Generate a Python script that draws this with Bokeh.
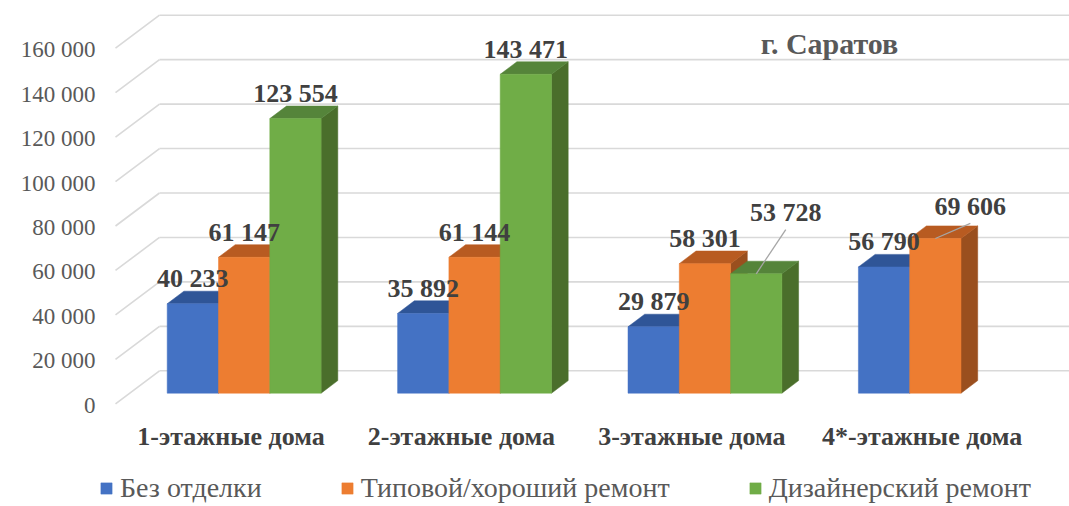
from bokeh.plotting import figure
from bokeh.models import Range1d, Legend, LegendItem, Label
from bokeh.core.properties import value
from bokeh.embed import file_html
from bokeh.resources import INLINE

# ---- data -------------------------------------------------------------
categories = ["1-этажные дома", "2-этажные дома", "3-этажные дома", "4*-этажные дома"]
series_names = ["Без отделки", "Типовой/хороший ремонт", "Дизайнерский ремонт"]
bez_otdelki = [40233, 35892, 29879, 56790]
tipovoy_remont = [61147, 61144, 58301, 69606]
dizainerskiy_remont = [123554, 143471, 53728, None]
y_ticks = [0, 20000, 40000, 60000, 80000, 100000, 120000, 140000, 160000]
city = "г. Саратов"

series_values = [bez_otdelki, tipovoy_remont, dizainerskiy_remont]


def fmt(v):
    return f"{v:,}".replace(",", " ")


y_tick_labels = [fmt(t) for t in y_ticks]

# ---- styling ----------------------------------------------------------
W, H = 1069, 506
GROUP_PX = 230.4          # pixels between category centres
FIRST_GROUP_PX = 232      # canvas x of first bar group reference
ZERO_PX = 403.3           # canvas y of the value 0 on the front plane
PX_PER_UNIT = 2.2225 / 1000.0

FONT_NAME = "Times New Roman"
FONT = value(FONT_NAME)
C_TEXT_DARK = "#404040"
C_TEXT = "#595959"
C_GRID = "#d9d9d9"

FRONT = ["#4472C4", "#ED7D31", "#70AD47"]
TOP = ["#2F5597", "#B85B21", "#55843A"]
SIDE = ["#2A4B86", "#9A4F1E", "#4A6E2B"]


def dx(px):
    return px / GROUP_PX


def dy(px):
    return px / PX_PER_UNIT


def cx_px(px):
    return dx(px - FIRST_GROUP_PX)


# 3-D projection offsets
WALL_X = cx_px(115)
WALL_DX, WALL_DY = dx(44), dy(33)
BAR_W = dx(51.3)
BAR_LEFT0 = dx(166.7 - FIRST_GROUP_PX)
BAR_BASE = dy(10.6)
BAR_DX, BAR_DY = dx(16.7), dy(12.6)
LABEL_GAP = dy(12.5)
# labels moved off their bar (pixels right, up) with a leader line
LABEL_NUDGE = {(2, 2): (29.5, 36), (3, 1): (35, 7)}

x0, x1 = cx_px(0), cx_px(W)
y0, y1 = dy(-(H - ZERO_PX)), dy(ZERO_PX)

p = figure(width=W, height=H, output_backend="svg", toolbar_location=None,
           x_range=Range1d(x0, x1), y_range=Range1d(y0, y1),
           min_border=0, x_axis_type=None, y_axis_type=None)
p.outline_line_color = None
p.xgrid.visible = False
p.ygrid.visible = False
p.background_fill_color = "white"
p.border_fill_color = "white"

# ---- gridlines: diagonal on the side, horizontal on the back wall -----
n = len(y_ticks)
p.segment(x0=[WALL_X] * n, y0=y_ticks,
          x1=[WALL_X + WALL_DX] * n, y1=[t + WALL_DY for t in y_ticks],
          line_color=C_GRID, line_width=1.6)
p.segment(x0=[WALL_X + WALL_DX] * n, y0=[t + WALL_DY for t in y_ticks],
          x1=[x1] * n, y1=[t + WALL_DY for t in y_ticks],
          line_color=C_GRID, line_width=1.6)

# ---- value axis labels ------------------------------------------------
p.text(x=[cx_px(95)] * n, y=[t - dy(1.5) for t in y_ticks], text=y_tick_labels,
       text_font=FONT, text_font_size="23px", text_color=C_TEXT,
       text_align="right", text_baseline="middle")

# ---- category labels --------------------------------------------------
p.text(x=[i + dx(-1.5) for i in range(len(categories))],
       y=[dy(-33)] * len(categories),
       text=categories, text_font=FONT, text_font_style="bold",
       text_font_size="26px", text_color=C_TEXT_DARK,
       text_align="center", text_baseline="middle")

# ---- bars -------------------------------------------------------------
legend_items = []
lab_x, lab_y, lab_t = [], [], []
lead_x0, lead_y0, lead_x1, lead_y1 = [], [], [], []
for j, vals in enumerate(series_values):
    L, R, T, B = [], [], [], []
    top_xs, top_ys, side_xs, side_ys = [], [], [], []
    for i, v in enumerate(vals):
        if v is None:
            continue
        left = i + BAR_LEFT0 + j * BAR_W
        right = left + BAR_W
        bottom = BAR_BASE
        top = BAR_BASE + v
        L.append(left); R.append(right); B.append(bottom); T.append(top)
        top_xs.append([left, right, right + BAR_DX, left + BAR_DX])
        top_ys.append([top, top, top + BAR_DY, top + BAR_DY])
        side_xs.append([right, right + BAR_DX, right + BAR_DX, right])
        side_ys.append([bottom, bottom + BAR_DY, top + BAR_DY, top])
        cx = (left + right) / 2
        ly = top + BAR_DY + LABEL_GAP
        nx, ny = LABEL_NUDGE.get((i, j), (0, 0))
        lx, ly = cx + dx(nx), ly + dy(ny)
        lab_x.append(lx); lab_y.append(ly); lab_t.append(fmt(v))
        if (i, j) in LABEL_NUDGE:
            lead_x0.append(lx); lead_y0.append(ly - dy(17))
            lead_x1.append(cx); lead_y1.append(top)
    p.patches(xs=side_xs, ys=side_ys, fill_color=SIDE[j], line_color=SIDE[j], line_width=0.5)
    p.patches(xs=top_xs, ys=top_ys, fill_color=TOP[j], line_color=TOP[j], line_width=0.5)
    r = p.quad(left=L, right=R, bottom=B, top=T, fill_color=FRONT[j],
               line_color=FRONT[j], line_width=0.5)
    legend_items.append(LegendItem(label=series_names[j], renderers=[r]))

# ---- value labels -----------------------------------------------------
p.segment(x0=lead_x0, y0=lead_y0, x1=lead_x1, y1=lead_y1,
          line_color="#A6A6A6", line_width=1.3)
p.text(x=lab_x, y=lab_y, text=lab_t, text_font=FONT, text_font_style="bold",
       text_font_size="26px", text_color=C_TEXT_DARK,
       text_align="center", text_baseline="middle")

# ---- city caption -----------------------------------------------------
p.add_layout(Label(x=829, y=H - 42.5, x_units="screen", y_units="screen",
                   text=city, text_font=FONT_NAME, text_font_style="bold",
                   text_font_size="30px", text_color=C_TEXT,
                   text_align="center", text_baseline="middle"))

# ---- legend -----------------------------------------------------------
legend = Legend(items=legend_items, orientation="horizontal",
                location=(99, 2), padding=0, margin=0,
                spacing=78, glyph_width=14, glyph_height=14, label_standoff=7,
                label_text_font=FONT_NAME, label_text_font_size="28px",
                label_text_color=C_TEXT, border_line_color=None,
                background_fill_alpha=0)
p.add_layout(legend, "center")

open("out.html", "w").write(file_html(p, INLINE))
